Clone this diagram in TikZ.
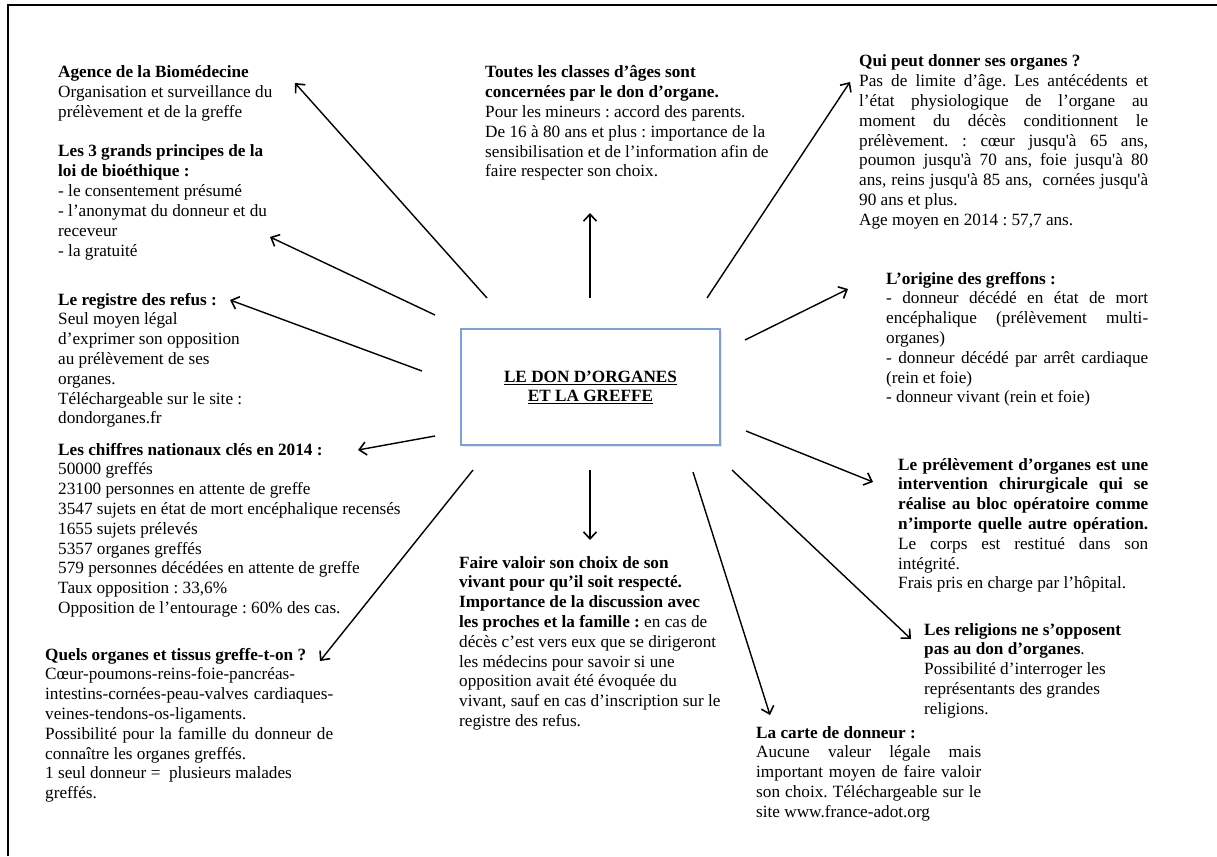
\documentclass[tikz,border=0pt]{standalone}
\usepackage{fontspec}
\setmainfont{Liberation Serif}
\usetikzlibrary{arrows.meta,shadows}
\setlength\parindent{0pt}
\frenchspacing
\newcommand\jl[1]{\makebox[\hsize][s]{\spaceskip=0pt\xspaceskip=0pt #1}}
\newcommand\sq{\textquotesingle}
\definecolor{boxblue}{RGB}{125,160,205}
\begin{document}
\begin{tikzpicture}[x=1pt,y=-1pt,
  txt/.style={anchor=base west, inner sep=0pt, align=left, font=\fontsize{17.2}{19.8}\selectfont,
    execute at begin node={\spaceskip=0pt\xspaceskip=0pt\frenchspacing}},
  arr/.style={line width=1.4pt, -{Straight Barb[length=7pt,width=13pt,line width=1.6pt]}},
  frame/.style={line width=1.3pt}
]
\useasboundingbox (0,0) rectangle (1217,856);
\draw[frame] (8,856) -- (8,5) -- (1217,5);

% central box
\node[draw=boxblue, fill=white, line width=1.2pt, minimum width=259pt, minimum height=116pt,
  inner sep=0pt, align=center, drop shadow={opacity=0.2, shadow xshift=1.5pt, shadow yshift=-1.5pt},
  font=\bfseries\fontsize{17.2}{19}\selectfont] (centre) at (590.5,387)
  {\underline{LE DON D’ORGANES}\\\underline{ET LA GREFFE}};

% text blocks
\node[txt, text width=320pt] (agence) at (58,78)
 {\textbf{Agence de la Biomédecine}\\
  Organisation et surveillance du\\
  prélèvement et de la greffe};

\node[txt, text width=320pt] (principes) at (58,157)
 {\textbf{Les 3 grands principes de la}\\
  \textbf{loi de bioéthique :}\\
  - le consentement présumé\\
  - l’anonymat du donneur et du\\
  receveur\\
  - la gratuité};

\node[txt, text width=320pt] (registre) at (58,305)
 {\textbf{Le registre des refus :}\\
  Seul moyen légal\\
  d’exprimer son opposition\\
  au prélèvement de ses\\
  organes.\\
  Téléchargeable sur le site :\\
  dondorganes.fr};

\node[txt, text width=380pt] (chiffres) at (58,455)
 {\textbf{Les chiffres nationaux clés en 2014 :}\\
  50000 greffés\\
  23100 personnes en attente de greffe\\
  3547 sujets en état de mort encéphalique recensés\\
  1655 sujets prélevés\\
  5357 organes greffés\\
  579 personnes décédées en attente de greffe\\
  Taux opposition : 33,6\%\\
  Opposition de l’entourage : 60\% des cas.};

\node[txt, text width=288pt] (quels) at (45,660)
 {\textbf{Quels organes et tissus greffe-t-on ?}\\
  Cœur-poumons-reins-foie-pancréas-\\
  \jl{intestins-cornées-peau-valves cardiaques-}\\
  veines-tendons-os-ligaments.\\
  \jl{Possibilité pour la famille du donneur de}\\
  connaître les organes greffés.\\
  1 seul donneur = \ plusieurs malades\\
  greffés.};

\node[txt, text width=320pt] (toutes) at (485,78)
 {\textbf{Toutes les classes d’âges sont}\\
  \textbf{concernées par le don d’organe.}\\
  Pour les mineurs : accord des parents.\\
  De 16 à 80 ans et plus : importance de la\\
  sensibilisation et de l’information afin de\\
  faire respecter son choix.};

\node[txt, text width=289pt] (qui) at (859,67)
 {\textbf{Qui peut donner ses organes ?}\\
  \jl{Pas de limite d’âge. Les antécédents et}\\
  \jl{l’état physiologique de l’organe au}\\
  \jl{moment du décès conditionnent le}\\
  \jl{prélèvement. : cœur jusqu\sq à 65 ans,}\\
  \jl{poumon jusqu\sq à 70 ans, foie jusqu\sq à 80}\\
  \jl{ans, reins jusqu\sq à 85 ans, \ cornées jusqu\sq à}\\
  90 ans et plus.\\
  Age moyen en 2014 : 57,7 ans.};

\node[txt, text width=262pt] (origine) at (886,284)
 {\textbf{L’origine des greffons :}\\
  \jl{- donneur décédé en état de mort}\\
  \jl{encéphalique (prélèvement multi-}\\
  organes)\\
  \jl{- donneur décédé par arrêt cardiaque}\\
  (rein et foie)\\
  - donneur vivant (rein et foie)};

\node[txt, text width=250pt] (prelev) at (898,470)
 {\jl{\bfseries Le prélèvement d’organes est une}\\
  \jl{\bfseries intervention chirurgicale qui se}\\
  \jl{\bfseries réalise au bloc opératoire comme}\\
  \jl{\bfseries n’importe quelle autre opération.}\\
  \jl{Le corps est restitué dans son}\\
  intégrité.\\
  Frais pris en charge par l’hôpital.};

\node[txt, text width=280pt] (religions) at (924,635)
 {\textbf{Les religions ne s’opposent}\\
  \textbf{pas au don d’organes}.\\
  Possibilité d’interroger les\\
  représentants des grandes\\
  religions.};

\node[txt, text width=225pt] (carte) at (756,738)
 {\textbf{La carte de donneur :}\\
  \jl{Aucune valeur légale mais}\\
  \jl{important moyen de faire valoir}\\
  \jl{son choix. Téléchargeable sur le}\\
  site www.france-adot.org};

\node[txt, text width=300pt] (faire) at (459,568)
 {\textbf{Faire valoir son choix de son}\\
  \textbf{vivant pour qu’il soit respecté.}\\
  \textbf{Importance de la discussion avec}\\
  \textbf{les proches et la famille :} en cas de\\
  décès c’est vers eux que se dirigeront\\
  les médecins pour savoir si une\\
  opposition avait été évoquée du\\
  vivant, sauf en cas d’inscription sur le\\
  registre des refus.};

% arrow ends
\coordinate (s1) at (487,298);  \coordinate (e1) at (295,83);
\coordinate (s2) at (435,315);  \coordinate (e2) at (270,237);
\coordinate (s3) at (422,371);  \coordinate (e3) at (230,300);
\coordinate (s4) at (435,436);  \coordinate (e4) at (358,450);
\coordinate (s5) at (473,470);  \coordinate (e5) at (320,661);
\coordinate (s6) at (590,470);  \coordinate (e6) at (590,540);
\coordinate (s7) at (693,472);  \coordinate (e7) at (770,715);
\coordinate (s8) at (732,470);  \coordinate (e8) at (911,639);
\coordinate (s9) at (746,431);  \coordinate (e9) at (873,482);
\coordinate (s10) at (745,340); \coordinate (e10) at (848,289);
\coordinate (s11) at (707,298); \coordinate (e11) at (850,82);
\coordinate (s12) at (590,298); \coordinate (e12) at (590,213);

\foreach \i in {1,...,12} { \draw[arr] (s\i) -- (e\i); }
\end{tikzpicture}
\end{document}
